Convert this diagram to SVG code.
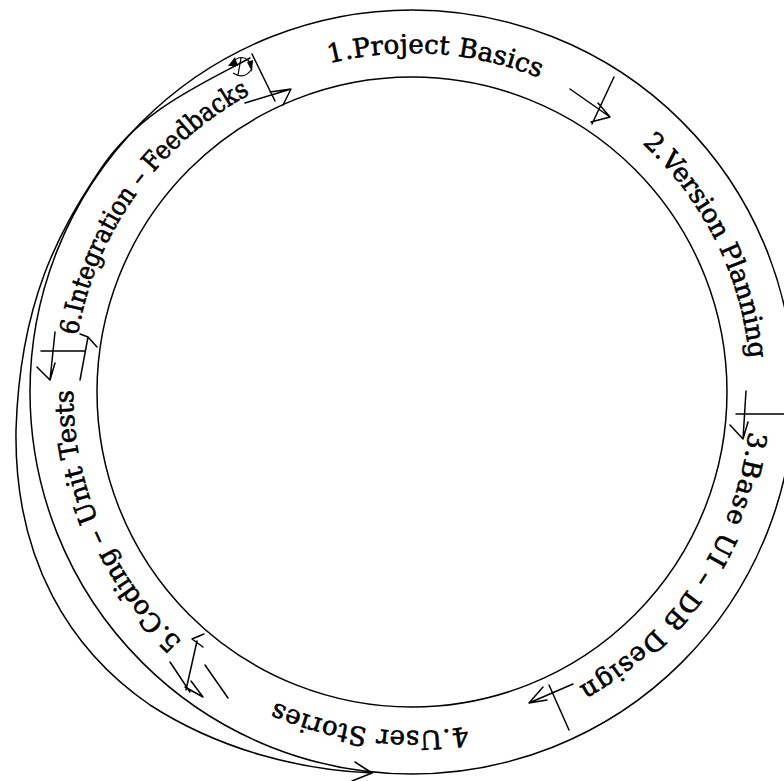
<svg xmlns="http://www.w3.org/2000/svg" width="784" height="781" viewBox="0 0 784 781">
<defs>
<style>
.ln{fill:none;stroke:#000;stroke-width:1.5;stroke-linecap:round;stroke-linejoin:round}
.lbl{font-family:"DejaVu Serif","Liberation Serif",serif;font-size:26px;fill:#000;stroke:#000;stroke-width:0.6}
</style>
<path id="p1" d="M189.6,136.2 A339,339 0 0 1 667.8,169.6"/>
<path id="p2" d="M520.1,70.7 A339,339 0 0 1 733.3,500.1"/>
<path id="p3" d="M744.3,325.0 A339,339 0 0 1 479.0,724.3"/>
<path id="p4" d="M619.8,659.9 A339,339 0 0 1 144.1,599.8"/>
<path id="p5" d="M287.8,707.4 A339,339 0 0 1 96.6,267.8"/>
<path id="p6" d="M77.6,447.9 A339,339 0 0 1 356.1,57.6"/>
</defs>
<rect width="784" height="781" fill="#fff"/>
<g id="ring">
<circle class="ln" cx="412" cy="392" r="382"/>
<circle class="ln" cx="412" cy="392" r="315"/>
</g>
<g id="node1"><text class="lbl" textLength="214" lengthAdjust="spacing"><textPath href="#p1" startOffset="50%" text-anchor="middle">1.Project Basics</textPath></text></g>
<g id="node2"><text class="lbl" textLength="246" lengthAdjust="spacing"><textPath href="#p2" startOffset="50%" text-anchor="middle">2.Version Planning</textPath></text></g>
<g id="node3"><text class="lbl" textLength="318" lengthAdjust="spacing"><textPath href="#p3" startOffset="50%" text-anchor="middle">3.Base UI – DB Design</textPath></text></g>
<g id="node4"><text class="lbl" textLength="196" lengthAdjust="spacing"><textPath href="#p4" startOffset="50%" text-anchor="middle">4.User Stories</textPath></text></g>
<g id="node5"><text class="lbl" textLength="282" lengthAdjust="spacingAndGlyphs"><textPath href="#p5" startOffset="50%" text-anchor="middle">5.Coding – Unit Tests</textPath></text></g>
<g id="node6"><text class="lbl" textLength="307" lengthAdjust="spacingAndGlyphs"><textPath href="#p6" startOffset="50%" text-anchor="middle">6.Integration – Feedbacks</textPath></text></g>
<g id="connectors">
<path class="ln" d="M252,54 L275,101 M245,103 L291,89 M270,92 L291,89 L283,105"/>
<path class="ln" d="M614,77 L592,124 M570,89 L610,117 M591,122 L610,117 L598,103"/>
<path class="ln" d="M736,414 L784,414 M746,391 L743,439 M730,425 L743,439 L748,422"/>
<path class="ln" d="M549,685 L569,730 M573,684 L529,703 M543,687 L529,703 L547,700"/>
<path class="ln" d="M205,665 L228,698 M170,662 L190,692 M186,690 L197,641 M204,634 L192,639 L203,647 M185,687 L203,697 L191,681"/>
<path class="ln" d="M41,351 L85,351 M55,332 L50,380 M37,367 L50,380 L55,363 M80,380 L88,337 M80,334 L88,337 L97,347"/>
<path class="ln" d="M250,58 C200,85 140,110 100,170 C60,230 20,300 16,430 C14,560 70,650 150,705 C220,750 300,770 372,773"/>
<path class="ln" d="M355,762 L372,773 L352,781"/>
</g>
<g id="cycle-icon">
<path d="M233,62 Q241,53 250,62 M251,70 Q244,80 233,73 M241,58 L238,75" fill="none" stroke="#000" stroke-width="1.2"/>
<path d="M228,66 L235,57 L238,66 Z M247,62 L253,60 L252,72 Z" fill="#000"/>
</g>
</svg>
